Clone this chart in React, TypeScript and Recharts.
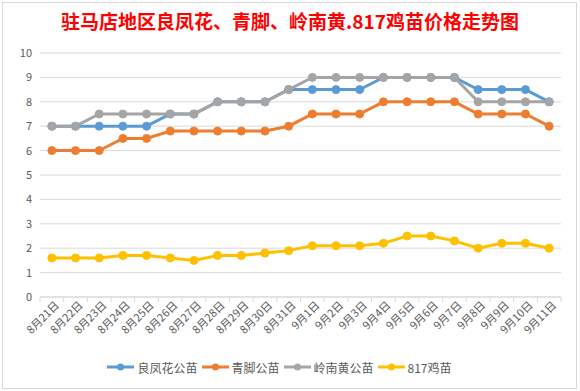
import React from "react";
import { LineChart, Line, XAxis, YAxis, CartesianGrid, Legend } from "recharts";

const dates = [
  "8月21日", "8月22日", "8月23日", "8月24日", "8月25日", "8月26日", "8月27日",
  "8月28日", "8月29日", "8月30日", "8月31日", "9月1日", "9月2日", "9月3日",
  "9月4日", "9月5日", "9月6日", "9月7日", "9月8日", "9月9日", "9月10日", "9月11日",
];
const liangFengHua = [7, 7, 7, 7, 7, 7.5, 7.5, 8, 8, 8, 8.5, 8.5, 8.5, 8.5, 9, 9, 9, 9, 8.5, 8.5, 8.5, 8];
const qingJiao = [6, 6, 6, 6.5, 6.5, 6.8, 6.8, 6.8, 6.8, 6.8, 7, 7.5, 7.5, 7.5, 8, 8, 8, 8, 7.5, 7.5, 7.5, 7];
const lingNanHuang = [7, 7, 7.5, 7.5, 7.5, 7.5, 7.5, 8, 8, 8, 8.5, 9, 9, 9, 9, 9, 9, 9, 8, 8, 8, 8];
const chick817 = [1.6, 1.6, 1.6, 1.7, 1.7, 1.6, 1.5, 1.7, 1.7, 1.8, 1.9, 2.1, 2.1, 2.1, 2.2, 2.5, 2.5, 2.3, 2.0, 2.2, 2.2, 2.0];
const yTicks = [0, 1, 2, 3, 4, 5, 6, 7, 8, 9, 10];

const series = [
  { key: "lfh", name: "良凤花公苗", color: "#5B9BD5" },
  { key: "qj", name: "青脚公苗", color: "#ED7D31" },
  { key: "lnh", name: "岭南黄公苗", color: "#A5A5A5" },
  { key: "c817", name: "817鸡苗", color: "#FFC000" },
];

const data = dates.map((d, i) => ({
  date: d,
  lfh: liangFengHua[i],
  qj: qingJiao[i],
  lnh: lingNanHuang[i],
  c817: chick817[i],
}));

const W = 580;
const H = 391;
const margin = { top: 53, right: 19, bottom: 14, left: 0 };
const yAxisWidth = 40;
const half = (W - margin.left - margin.right - yAxisWidth) / dates.length / 2;
const font = '"Noto Sans CJK SC", "Noto Sans", sans-serif';

function DateTick(props: any) {
  const { x, y, payload, index } = props;
  return (
    <g transform={`translate(${x},${y})`}>
      <line x1={-half} y1={0} x2={-half} y2={5} stroke="#d9d9d9" />
      {index === dates.length - 1 && (
        <line x1={half} y1={0} x2={half} y2={5} stroke="#d9d9d9" />
      )}
      <text
        x={8}
        y={9}
        textAnchor="end"
        transform="rotate(-45 8 9)"
        fontSize={11}
        fill="#595959"
        fontFamily={font}
      >
        {payload.value}
      </text>
    </g>
  );
}

function LegendBox() {
  return (
    <div style={{ display: "flex", justifyContent: "center", alignItems: "center", height: 20, fontFamily: font, fontSize: 12, color: "#595959" }}>
      {series.map((s) => (
        <div key={s.key} style={{ display: "flex", alignItems: "center", marginRight: 3 }}>
          <svg width={29} height={10} style={{ marginRight: 2 }}>
            <line x1={1} y1={5} x2={28} y2={5} stroke={s.color} strokeWidth={3} />
            <circle cx={14.5} cy={5} r={3.5} fill={s.color} />
          </svg>
          <span>{s.name}</span>
        </div>
      ))}
    </div>
  );
}

export default function App() {
  return (
    <div style={{ position: "absolute", left: 0, top: 0, width: W, height: H, background: "#fff" }}>
      <div style={{ position: "absolute", left: 2, top: 2, width: 573, height: 385, border: "1px solid #d9d9d9" }} />
      <div
        style={{
          position: "absolute",
          left: 0,
          top: 7,
          width: W,
          textAlign: "center",
          color: "#FF0000",
          fontWeight: "bold",
          fontSize: 19,
          fontFamily: font,
        }}
      >
        驻马店地区良凤花、青脚、岭南黄.817鸡苗价格走势图
      </div>
      <div style={{ position: "absolute", left: 0, top: 0 }}>
        <LineChart width={W} height={H} data={data} margin={margin}>
          <CartesianGrid vertical={false} stroke="#d9d9d9" />
          <XAxis
            dataKey="date"
            interval={0}
            padding={{ left: half, right: half }}
            stroke="#d9d9d9"
            tickLine={false}
            tickSize={0}
            tickMargin={0}
            tick={<DateTick />}
            height={60}
          />
          <YAxis
            domain={[0, 10]}
            ticks={yTicks}
            width={yAxisWidth}
            axisLine={false}
            tickLine={false}
            tickSize={0}
            tickMargin={8}
            tick={{ fontSize: 11, fill: "#595959", fontFamily: font }}
          />
          <Legend verticalAlign="bottom" height={20} content={<LegendBox />} />
          {series.map((s) => (
            <Line
              key={s.key}
              dataKey={s.key}
              name={s.name}
              stroke={s.color}
              strokeWidth={3}
              dot={{ r: 4, fill: s.color, stroke: s.color, strokeWidth: 1 }}
              activeDot={false}
              isAnimationActive={false}
            />
          ))}
        </LineChart>
      </div>
    </div>
  );
}
